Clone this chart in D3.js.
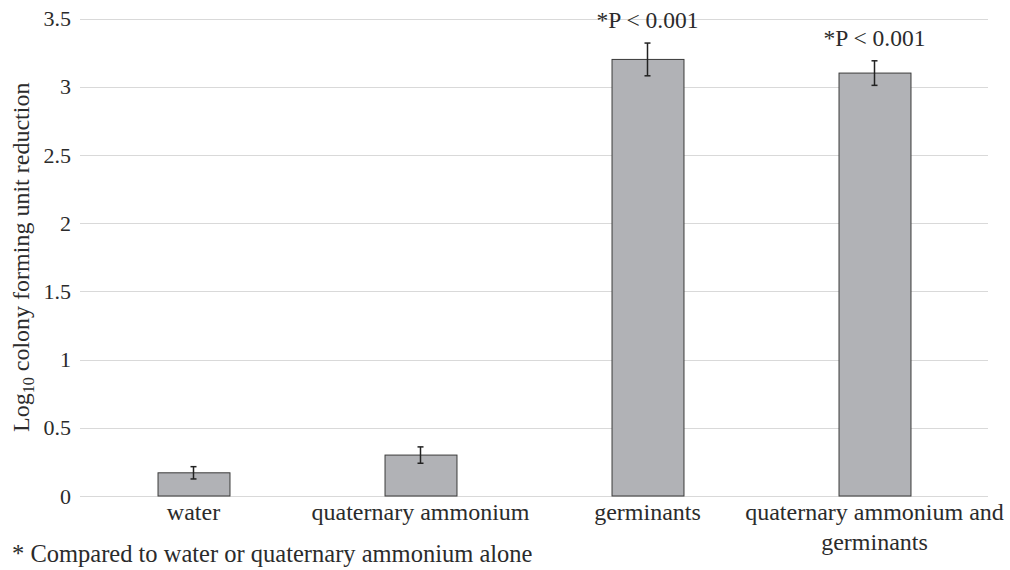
<!DOCTYPE html>
<html><head><meta charset="utf-8">
<script src="https://cdn.jsdelivr.net/npm/d3@7"></script>
<style>body{margin:0;background:#fff}svg{display:block}</style>
</head><body>
<script>
const categories = ["water", "quaternary ammonium", "germinants", "quaternary ammonium and germinants"];
const values = [0.17, 0.30, 3.20, 3.10];
const errors = [0.045, 0.06, 0.12, 0.09];
const annotations = ["", "", "*P < 0.001", "*P < 0.001"];
const yTicks = [0, 0.5, 1, 1.5, 2, 2.5, 3, 3.5];

(function () {
const W = 1010, H = 570;
const FF = "Liberation Serif";
const svg = d3.select("body").append("svg").attr("width", W).attr("height", H)
  .style("font-family", FF);
const ink = "#2b2b2b";
const pl = 80, pr = 988, pt = 18.5, pb = 496;
const x = d3.scaleBand().domain(categories).range([pl, pr]).paddingInner(0.683).paddingOuter(0.683/2);
const y = d3.scaleLinear().domain([0, 3.5]).range([pb, pt]);

svg.append("g").selectAll("line").data(yTicks).join("line")
  .attr("x1", pl).attr("x2", pr)
  .attr("y1", d => Math.round(y(d)) + 0.5).attr("y2", d => Math.round(y(d)) + 0.5)
  .attr("stroke", "#d9d9d9").attr("stroke-width", 1);

svg.append("g").selectAll("text").data(yTicks).join("text")
  .style("font-family", FF)
  .attr("x", 71).attr("y", d => y(d)).attr("dy", "0.35em")
  .attr("text-anchor", "end").attr("font-size", 22).attr("fill", ink)
  .text(d => d);

svg.append("g").selectAll("rect").data(values).join("rect")
  .attr("x", (d, i) => x(categories[i]) + 0.5)
  .attr("y", d => y(d))
  .attr("width", x.bandwidth())
  .attr("height", d => y(0) - y(d))
  .attr("fill", "#b1b2b6").attr("stroke", "#3a3a3a").attr("stroke-width", 1);

const eg = svg.append("g").attr("stroke", "#222").attr("stroke-width", 1.5);
values.forEach((v, i) => {
  const cx = x(categories[i]) + x.bandwidth() / 2;
  const y1 = y(v + errors[i]), y2 = y(v - errors[i]);
  eg.append("line").attr("x1", cx).attr("x2", cx).attr("y1", y1).attr("y2", y2);
  eg.append("line").attr("x1", cx - 3).attr("x2", cx + 3).attr("y1", y1).attr("y2", y1);
  eg.append("line").attr("x1", cx - 3).attr("x2", cx + 3).attr("y1", y2).attr("y2", y2);
});

svg.append("g").selectAll("text").data(annotations).join("text")
  .style("font-family", FF)
  .attr("x", (d, i) => x(categories[i]) + x.bandwidth() / 2)
  .attr("y", (d, i) => y(values[i] + errors[i]) - 15)
  .attr("text-anchor", "middle").attr("font-size", 23.5).attr("fill", ink)
  .text(d => d);

const xl = svg.append("g");
categories.forEach((c, i) => {
  const cx = x(c) + x.bandwidth() / 2;
  const lines = c === "quaternary ammonium and germinants" ? ["quaternary ammonium and", "germinants"] : [c];
  const t = xl.append("text").style("font-family", FF).attr("text-anchor", "middle").attr("font-size", 24).attr("fill", ink);
  lines.forEach((l, j) => t.append("tspan").attr("x", cx).attr("y", 520 + j * 30).text(l));
});

const yt = svg.append("text").style("font-family", FF)
  .attr("transform", `translate(29,${(pt + pb) / 2}) rotate(-90)`)
  .attr("text-anchor", "middle").attr("font-size", 24).attr("fill", ink);
yt.append("tspan").text("Log");
yt.append("tspan").attr("font-size", 16).attr("dy", 5).text("10");
yt.append("tspan").attr("dy", -5).text(" colony forming unit reduction");

svg.append("text").style("font-family", FF).attr("x", 12).attr("y", 562).attr("font-size", 24.5).attr("fill", ink)
  .text("* Compared to water or quaternary ammonium alone");
})();
</script>
</body></html>
